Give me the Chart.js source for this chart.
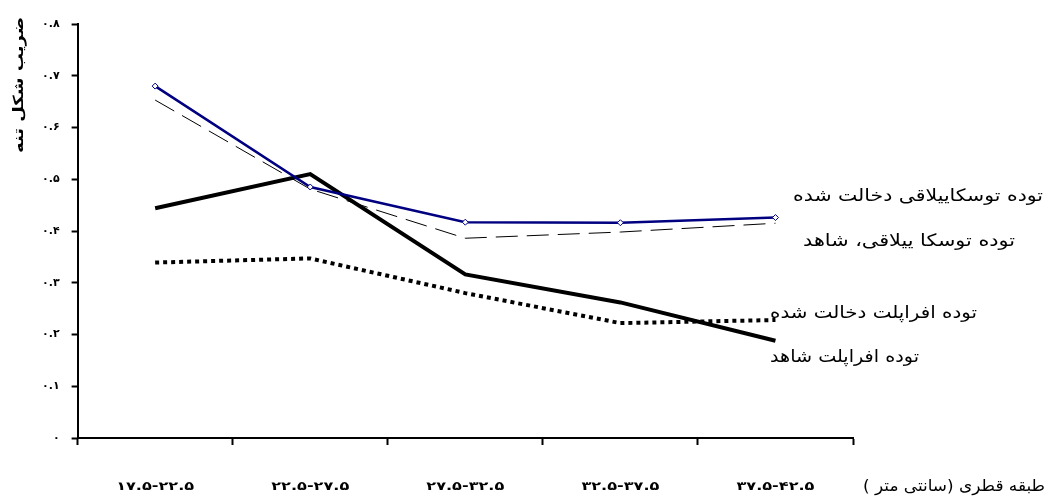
<!DOCTYPE html>
<html>
<head>
<meta charset="utf-8">
<script src="https://cdn.jsdelivr.net/npm/chart.js@4/dist/chart.umd.min.js"></script>
<style>
  body { margin: 0; background: #fff; }
  #wrap { width: 1056px; height: 496px; position: relative; }
</style>
</head>
<body>
<div id="wrap"><canvas id="grafico"></canvas></div>
<script>
/* ---------- Datos ---------- */
const categorias = ["۱۷.۵-۲۲.۵", "۲۲.۵-۲۷.۵", "۲۷.۵-۳۲.۵", "۳۲.۵-۳۷.۵", "۳۷.۵-۴۲.۵"];
const nombresSeries = [
  "توده توسکاییلاقی دخالت شده",
  "توده توسکا ییلاقی، شاهد",
  "توده افراپلت دخالت شده",
  "توده افراپلت شاهد"
];
const toskaDakhalat = [0.680, 0.485, 0.417, 0.416, 0.426];
const toskaShahed   = [0.653, 0.481, 0.386, 0.398, 0.415];
const afraDakhalat  = [0.339, 0.347, 0.280, 0.222, 0.228];
const afraShahed    = [0.444, 0.510, 0.316, 0.262, 0.188];
const ticksY = [0, 0.1, 0.2, 0.3, 0.4, 0.5, 0.6, 0.7, 0.8];
const tituloY = "ضریب شکل تنه";
const tituloX = "طبقه قطری (سانتی متر )";

const FA = "DejaVu Sans";
const faDigits = (s) => String(s).replace(/[0-9]/g, (d) => "۰۱۲۳۴۵۶۷۸۹"[d]);

// dibuja texto ajustado a un ancho dado (x = borde izquierdo)
function textoAjustado(ctx, txt, x, y, ancho) {
  const w = ctx.measureText(txt).width;
  ctx.save();
  ctx.translate(x, y);
  ctx.scale(ancho / w, 1);
  ctx.fillText(txt, 0, 0);
  ctx.restore();
}

/* ---------- textos sobre el lienzo ---------- */
const textosPlugin = {
  id: "textos",
  afterDraw(chart) {
    const ctx = chart.ctx;
    const xs = chart.scales.x;
    ctx.save();
    ctx.fillStyle = "#000";
    ctx.textBaseline = "middle";
    ctx.textAlign = "left";

    // etiquetas de categoria del eje x
    ctx.direction = "ltr";
    ctx.font = "bold 12px '" + FA + "'";
    categorias.forEach((c, i) => {
      const cx = xs.getPixelForValue(i);
      textoAjustado(ctx, c, cx - 39, 487, 78);
    });

    // etiquetas de las series a la derecha
    ctx.direction = "rtl";
    ctx.font = "17px '" + FA + "'";
    textoAjustado(ctx, nombresSeries[0], 793, 197, 250);
    textoAjustado(ctx, nombresSeries[1], 803, 242, 212);
    textoAjustado(ctx, nombresSeries[2], 770, 314, 207);
    textoAjustado(ctx, nombresSeries[3], 770, 358, 149);

    // titulo eje x
    ctx.font = "16px '" + FA + "'";
    textoAjustado(ctx, tituloX, 863, 487, 182);

    // titulo eje y (vertical)
    ctx.translate(19, 85);
    ctx.rotate(-Math.PI / 2);
    ctx.font = "bold 14px '" + FA + "'";
    textoAjustado(ctx, tituloY, -68, 0, 136);
    ctx.restore();
  }
};

const ctx = document.getElementById("grafico").getContext("2d");
new Chart(ctx, {
  type: "line",
  data: {
    labels: categorias,
    datasets: [
      {
        label: nombresSeries[0],
        data: toskaDakhalat,
        borderColor: "#000080",
        borderWidth: 2.5,
        pointStyle: "rectRot",
        pointRadius: 3,
        pointBackgroundColor: "#fff",
        pointBorderColor: "#000080",
        pointBorderWidth: 1
      },
      {
        label: nombresSeries[1],
        data: toskaShahed,
        borderColor: "#000",
        borderWidth: 1,
        borderDash: [22, 9],
        pointRadius: 0
      },
      {
        label: nombresSeries[2],
        data: afraDakhalat,
        borderColor: "#000",
        borderWidth: 4,
        borderDash: [4, 4],
        pointRadius: 0
      },
      {
        label: nombresSeries[3],
        data: afraShahed,
        borderColor: "#000",
        borderWidth: 4,
        pointRadius: 0
      }
    ]
  },
  options: {
    responsive: true,
    maintainAspectRatio: false,
    animation: false,
    layout: { padding: { top: 24, right: 203, bottom: 51, left: 30 } },
    plugins: {
      legend: { display: false },
      tooltip: { enabled: false }
    },
    elements: { line: { tension: 0 } },
    scales: {
      x: {
        offset: true,
        grid: {
          offset: true,
          drawOnChartArea: false,
          drawTicks: true,
          tickLength: 7,
          tickColor: "#000",
          tickWidth: 2
        },
        border: { display: true, color: "#000", width: 2 },
        ticks: { display: false }
      },
      y: {
        min: 0,
        max: 0.8,
        afterBuildTicks(axis) {
          axis.ticks = ticksY.map((v) => ({ value: v }));
        },
        grid: {
          drawOnChartArea: false,
          drawTicks: true,
          tickLength: 6,
          tickColor: "#000",
          tickWidth: 2
        },
        border: { display: true, color: "#000", width: 2 },
        ticks: {
          color: "#000",
          padding: 12,
          font: { family: FA, size: 11, weight: "bold" },
          callback: (v) => (v === 0 ? "۰" : faDigits(v.toFixed(1)))
        }
      }
    }
  },
  plugins: [textosPlugin]
});
</script>
</body>
</html>
